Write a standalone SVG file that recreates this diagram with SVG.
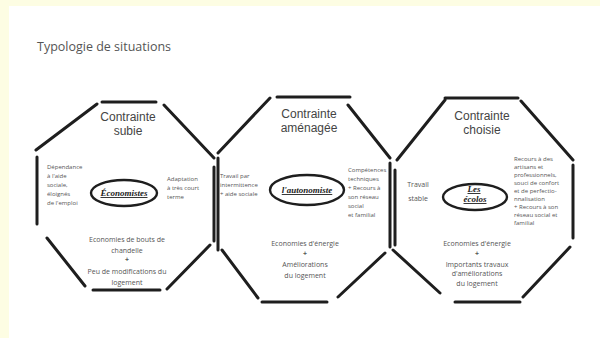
<svg xmlns="http://www.w3.org/2000/svg" width="600" height="338" viewBox="0 0 600 338">
<style>
.e{fill:none;stroke:#1e1e1e;stroke-width:3;stroke-linecap:round}
.ov{fill:none;stroke:#1e1e1e;stroke-width:2.4}
.t{font-family:"Open Sans","Liberation Sans",sans-serif;fill:#555}
.h{font-family:"Liberation Sans",sans-serif;font-size:12px;text-anchor:middle;fill:#444}
.s{font-size:6px}
.m{font-size:7px;text-anchor:middle}
.hw{font-family:"Liberation Serif",serif;font-style:italic;font-weight:bold;font-size:9px;text-anchor:middle;fill:#222;text-decoration:underline}
</style>
<rect width="600" height="338" fill="#fdfde3"/>
<rect x="9" y="6" width="591" height="332" fill="#ffffff"/>
<text class="t" x="37" y="51" font-size="12.5" fill="#444">Typologie de situations</text>

<g id="subie">
<path class="e" d="M102 102 L156 102 M164 105 L214 158 M214 167 L214 241 M210 245 L167 289 M93 290 L160 290 M85 286 L47 238 M37 157 L37 224 M36 150 L97 104"/>
<text class="h" x="128" y="121">Contrainte</text>
<text class="h" x="128" y="135">subie</text>
<g class="t s"><text x="47" y="169">Dépendance</text><text x="47" y="178">à l'aide</text><text x="47" y="187">sociale,</text><text x="47" y="196">éloignés</text><text x="47" y="205">de l'emploi</text></g>
<g class="t s"><text x="167" y="181">Adaptation</text><text x="167" y="190">à très court</text><text x="167" y="199">terme</text></g>
<ellipse class="ov" cx="124" cy="193" rx="33" ry="13"/>
<text class="hw" x="124" y="196">Économistes</text>
<g class="t m"><text x="127" y="242">Economies de bouts de</text><text x="127" y="253">chandelle</text><text x="127" y="262" font-weight="bold">+</text><text x="127" y="274">Peu de modifications du</text><text x="127" y="285">logement</text></g>
</g>

<g id="amenagee">
<path class="e" d="M277 97 L350 97 M348 105 L390 158 M390 163 L390 247 M385 253 L338 297 M262 302 L327 302 M222 250 L258 298 M218 158 L218 250 M218 153 L270 98"/>
<text class="h" x="309" y="118">Contrainte</text>
<text class="h" x="309" y="132">aménagée</text>
<g class="t s"><text x="220" y="178">Travail par</text><text x="220" y="187">intermittence</text><text x="220" y="196">+ aide sociale</text></g>
<g class="t s"><text x="348" y="172">Compétences</text><text x="348" y="181">techniques</text><text x="348" y="190">+ Recours à</text><text x="348" y="199">son réseau</text><text x="348" y="208">social</text><text x="348" y="217">et familial</text></g>
<ellipse class="ov" cx="307" cy="190" rx="37" ry="15"/>
<text class="hw" x="307" y="193">l'autonomiste</text>
<g class="t m"><text x="305" y="246">Economies d'énergie</text><text x="305" y="256" font-weight="bold">+</text><text x="305" y="267">Améliorations</text><text x="305" y="278">du logement</text></g>
</g>

<g id="choisie">
<path class="e" d="M445 98 L518 98 M521 101 L573 160 M573 165 L573 238 M570 247 L523 297 M455 302 L520 302 M393 250 L440 293 M395 170 L395 245 M397 160 L445 100"/>
<text class="h" x="482" y="120">Contrainte</text>
<text class="h" x="482" y="134">choisie</text>
<g class="t m"><text x="418" y="187">Travail</text><text x="418" y="201">stable</text></g>
<g class="t s"><text x="514" y="161">Recours à des</text><text x="514" y="169">artisans et</text><text x="514" y="177">professionnels,</text><text x="514" y="185">souci de confort</text><text x="514" y="193">et de perfectio-</text><text x="514" y="201">nnalisation</text><text x="514" y="209">+ Recours à son</text><text x="514" y="217">réseau social et</text><text x="514" y="225">familial</text></g>
<ellipse class="ov" cx="475" cy="197" rx="32" ry="13"/>
<text class="hw" x="474" y="192" font-size="7">Les</text>
<text class="hw" x="475" y="202">écolos</text>
<g class="t m"><text x="477" y="246">Economies d'énergie</text><text x="477" y="256" font-weight="bold">+</text><text x="477" y="267">Importants travaux</text><text x="477" y="276">d'améliorations</text><text x="477" y="286">du logement</text></g>
</g>
</svg>
